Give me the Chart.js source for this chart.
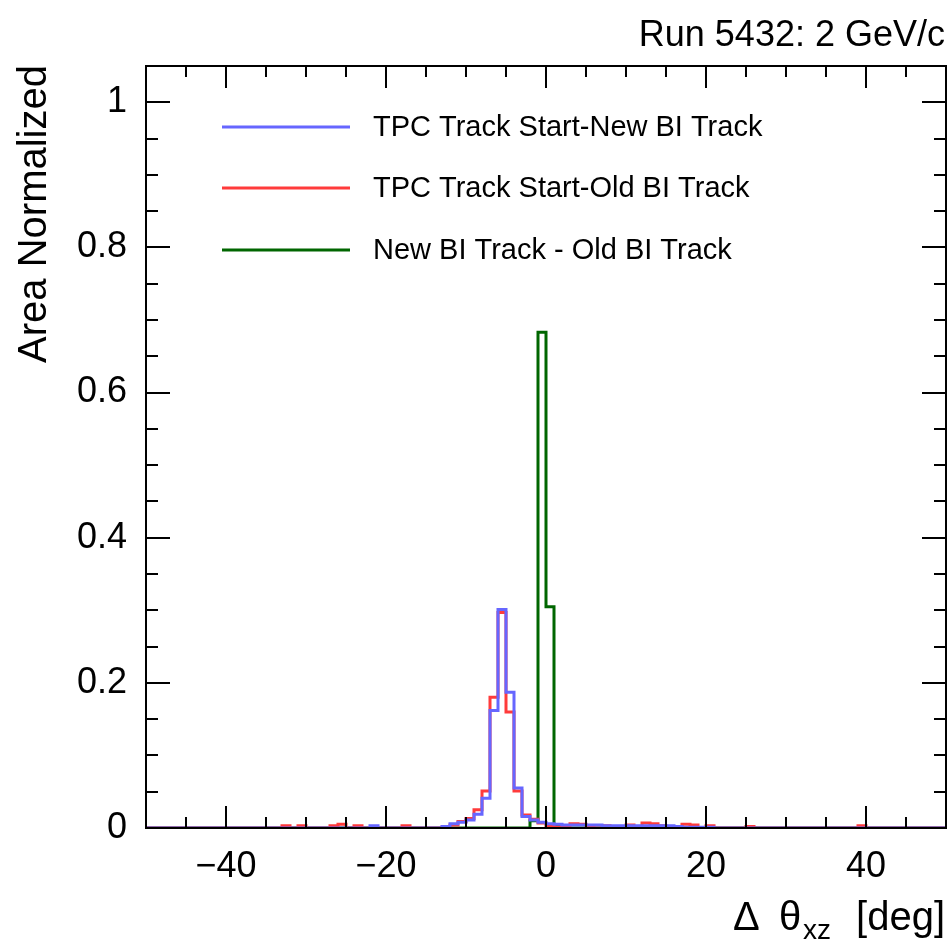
<!DOCTYPE html>
<html>
<head>
<meta charset="utf-8">
<script src="https://cdn.jsdelivr.net/npm/chart.js@4.4.1/dist/chart.umd.min.js"></script>
<style>
  html, body { margin: 0; padding: 0; background: #fff; }
</style>
</head>
<body>
<canvas id="histChart" width="949" height="947"></canvas>
<script>
// 1 deg bins from -50 to 50
const xMin = -50, xMax = 50;
const binEdges = Array.from({ length: 101 }, (_, i) => xMin + i);
const xTickValues = [-40, -20, 0, 20, 40];
const yTickValues = [0, 0.2, 0.4, 0.6, 0.8, 1];

const seriesLabels = [
  "TPC Track Start-New BI Track",
  "TPC Track Start-Old BI Track",
  "New BI Track - Old BI Track",
];
const seriesColors = ["#6666ff", "#ff3b3b", "#006600"];

// area normalized contents, bin i covers [-50+i, -49+i]
const tpcNewBI = [
  0, 0, 0, 0, 0, 0, 0, 0, 0, 0,
  0, 0, 0, 0, 0, 0, 0, 0, 0, 0,
  0, 0, 0, 0, 0, 0, 0, 0, 0.003, 0,
  0, 0, 0, 0, 0, 0, 0, 0.002, 0.006, 0.008,
  0.011, 0.019, 0.041, 0.162, 0.301, 0.187, 0.055, 0.016, 0.011, 0.008,
  0.006, 0.005, 0.004, 0.004, 0.004, 0.004, 0.004, 0.003, 0.003, 0.003,
  0.003, 0.003, 0.003, 0.003, 0.003, 0.003, 0.002, 0.001, 0.001, 0.001,
  0.001, 0, 0, 0, 0, 0, 0, 0, 0, 0,
  0, 0, 0, 0, 0, 0, 0, 0, 0, 0,
  0, 0, 0, 0, 0, 0, 0, 0, 0, 0,
];
const tpcOldBI = [
  0, 0, 0, 0, 0, 0, 0, 0, 0, 0,
  0, 0, 0, 0, 0, 0, 0, 0.003, 0, 0.003,
  0, 0, 0, 0.003, 0.005, 0, 0.003, 0, 0, 0,
  0, 0, 0.003, 0, 0, 0, 0, 0.001, 0.004, 0.009,
  0.013, 0.025, 0.051, 0.180, 0.297, 0.160, 0.051, 0.018, 0.012, 0.007,
  0.002, 0.001, 0.002, 0.006, 0.005, 0.001, 0, 0.003, 0, 0,
  0.004, 0, 0.007, 0.006, 0.003, 0, 0, 0.005, 0.004, 0,
  0.003, 0, 0, 0, 0, 0.002, 0, 0, 0, 0,
  0, 0, 0, 0, 0, 0, 0, 0, 0, 0.003,
  0, 0, 0, 0, 0, 0, 0, 0, 0, 0,
];
const newOldBI = [
  0, 0, 0, 0, 0, 0, 0, 0, 0, 0,
  0, 0, 0, 0, 0, 0, 0, 0, 0, 0,
  0, 0, 0, 0, 0, 0, 0, 0, 0, 0,
  0, 0, 0, 0, 0, 0, 0, 0, 0, 0,
  0, 0, 0, 0, 0, 0, 0, 0, 0.010, 0.683,
  0.305, 0.002, 0, 0, 0, 0, 0, 0, 0, 0,
  0, 0, 0, 0, 0, 0, 0, 0, 0, 0,
  0, 0, 0, 0, 0, 0, 0, 0, 0, 0,
  0, 0, 0, 0, 0, 0, 0, 0, 0, 0,
  0, 0, 0, 0, 0, 0, 0, 0, 0, 0,
];

const FONT = "'Liberation Sans', Arial, Helvetica, sans-serif";

// step histogram: one point per left edge, plus the last right edge
function toSteps(values) {
  return binEdges.map((x, i) => ({ x: x, y: values[Math.min(i, values.length - 1)] }));
}

function histDataset(label, values, color) {
  return {
    label: label,
    data: toSteps(values),
    borderColor: color,
    borderWidth: 3,
    stepped: "before", // horizontal at the bin value, then jump at the next edge
    pointRadius: 0,
    fill: false,
  };
}

// ROOT-like frame, inward ticks, legend and titles
const rootStyle = {
  id: "rootStyle",
  afterDatasetsDraw(chart) {
    const ctx = chart.ctx;
    const a = chart.chartArea;
    const xs = chart.scales.x;
    const ys = chart.scales.y;
    ctx.save();
    ctx.strokeStyle = "#000";
    ctx.lineWidth = 2;

    // ticks (major + minor), on all four sides
    ctx.beginPath();
    for (let v = xMin; v <= xMax; v += 5) {
      const px = Math.round(xs.getPixelForValue(v));
      const len = v % 20 === 0 ? 22 : 11;
      ctx.moveTo(px, a.bottom); ctx.lineTo(px, a.bottom - len);
      ctx.moveTo(px, a.top); ctx.lineTo(px, a.top + len);
    }
    for (let k = 0; k <= 21; k++) {
      const v = k * 0.05;
      const py = Math.round(ys.getPixelForValue(v));
      const len = k % 4 === 0 ? 24 : 12;
      ctx.moveTo(a.left, py); ctx.lineTo(a.left + len, py);
      ctx.moveTo(a.right, py); ctx.lineTo(a.right - len, py);
    }
    ctx.stroke();
    ctx.strokeRect(a.left, a.top, a.right - a.left, a.bottom - a.top);

    // legend
    const legendY = [127, 188, 250];
    chart.data.datasets.forEach((ds, i) => {
      ctx.strokeStyle = ds.borderColor;
      ctx.lineWidth = 3;
      ctx.beginPath();
      ctx.moveTo(222, legendY[i]); ctx.lineTo(350, legendY[i]);
      ctx.stroke();
      ctx.fillStyle = "#000";
      ctx.font = "29px " + FONT;
      ctx.textAlign = "left";
      ctx.textBaseline = "middle";
      ctx.fillText(ds.label, 373, legendY[i] + 1);
    });

    // top right label
    ctx.fillStyle = "#000";
    ctx.textBaseline = "alphabetic";
    ctx.textAlign = "right";
    ctx.font = "36px " + FONT;
    ctx.fillText("Run 5432: 2 GeV/c", 945, 46);

    // y title
    ctx.save();
    ctx.translate(46, 65);
    ctx.rotate(-Math.PI / 2);
    ctx.textAlign = "right";
    ctx.font = "40px " + FONT;
    ctx.fillText("Area Normalized", 0, 0);
    ctx.restore();

    // x title: "Δ θ_xz [deg]"
    const base = 930;
    ctx.textAlign = "left";
    ctx.font = "40px " + FONT;
    ctx.fillText("\u0394", 733, base);
    ctx.fillText("\u03b8", 779, base);
    ctx.font = "28px " + FONT;
    ctx.fillText("xz", 803, base + 9);
    ctx.font = "40px " + FONT;
    ctx.textAlign = "right";
    ctx.fillText("[deg]", 945, base);
    ctx.restore();
  },
};

const histChart = new Chart(document.getElementById("histChart"), {
  type: "line",
  data: {
    datasets: [
      histDataset(seriesLabels[0], tpcNewBI, seriesColors[0]),
      histDataset(seriesLabels[1], tpcOldBI, seriesColors[1]),
      histDataset(seriesLabels[2], newOldBI, seriesColors[2]),
    ],
  },
  options: {
    responsive: false,
    animation: false,
    devicePixelRatio: 1,
    layout: { padding: { top: 66, right: 3, left: 0, bottom: 0 } },
    plugins: {
      legend: { display: false },
      tooltip: { enabled: false },
    },
    scales: {
      x: {
        type: "linear",
        min: xMin,
        max: xMax,
        grid: { display: false },
        border: { display: false },
        afterBuildTicks: (scale) => {
          scale.ticks = xTickValues.map((v) => ({ value: v }));
        },
        afterFit: (scale) => {
          scale.height = 119;
        },
        ticks: {
          autoSkip: false,
          maxRotation: 0,
          padding: 9,
          color: "#000",
          font: { family: FONT, size: 36 },
          callback: (v) => (v < 0 ? "\u2212" + Math.abs(v) : String(v)),
        },
      },
      y: {
        type: "linear",
        min: 0,
        max: 1.05,
        grid: { display: false },
        border: { display: false },
        afterBuildTicks: (scale) => {
          scale.ticks = yTickValues.map((v) => ({ value: v }));
        },
        afterFit: (scale) => {
          scale.width = 146;
        },
        ticks: {
          autoSkip: false,
          padding: 11,
          color: "#000",
          font: { family: FONT, size: 36 },
          callback: (v) => String(v),
        },
      },
    },
  },
  plugins: [rootStyle],
});
</script>
</body>
</html>
